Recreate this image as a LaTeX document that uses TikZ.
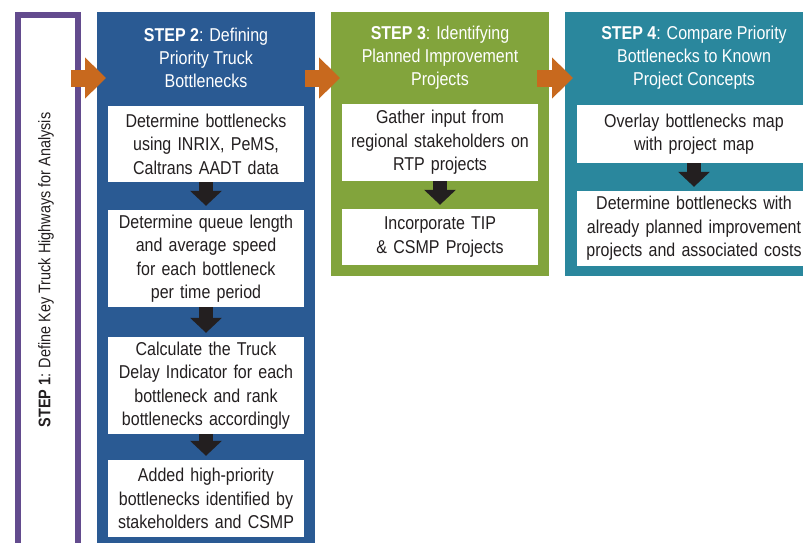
\documentclass[tikz,border=0pt]{standalone}
\usepackage{fontspec}
\setmainfont{Liberation Sans}[FakeStretch=0.86]
\usetikzlibrary{arrows.meta}
\definecolor{cpurple}{HTML}{634B8E}
\definecolor{cblue}{HTML}{2A5A93}
\definecolor{cgreen}{HTML}{82A43C}
\definecolor{cteal}{HTML}{2A879D}
\definecolor{corange}{HTML}{C8691E}
\definecolor{cdark}{HTML}{231F20}
\tikzset{
  title/.style={text=white, align=center, font=\fontsize{18.6}{23}\selectfont, inner sep=0pt},
  wbox/.style={fill=white, text=cdark, align=center, inner sep=0pt,
    font=\fontsize{18.6}{23.5}\selectfont},
  darr/.style={draw=cdark, line width=14pt,
    -{Triangle[length=15pt,width=31pt]}, shorten >=4pt},
  oarr/.style={draw=corange, line width=17pt,
    -{Triangle[length=21pt,width=40pt]}},
}
\begin{document}
\begin{tikzpicture}[x=1pt,y=-1pt]
\useasboundingbox (0,0) rectangle (803,542);
% Step 1 frame
\draw[cpurple, line width=6pt, fill=white] (18,15) rectangle (78,580);
\node[rotate=90, inner sep=0pt, text=cdark, font=\fontsize{16.8}{22}\selectfont] (s1t) at (46,270)
  {\textbf{STEP 1}: Define Key Truck Highways for Analysis};
\coordinate (s1e) at (81,78);
% Step panels
\fill[cblue] (97,12) rectangle (315,580);
\fill[cgreen] (331,12) rectangle (549,276);
\fill[cteal] (565,12) rectangle (830,276);
\coordinate (s2w) at (97,78);
\coordinate (s2e) at (315,78);
\coordinate (s3w) at (331,78);
\coordinate (s3e) at (549,78);
\coordinate (s4w) at (565,78);
% Titles
\node[title] (t2) at (206,58) {\textbf{STEP 2}: Defining\\Priority Truck\\Bottlenecks};
\node[title] (t3) at (440,58) {\textbf{STEP 3}: Identifying\\Planned Improvement\\Projects};
\node[title] (t4) at (694,58) {\textbf{STEP 4}: Compare Priority\\Bottlenecks to Known\\Project Concepts};
% Step 2 boxes
\node[wbox, minimum width=196pt, minimum height=76pt, text width=196pt] (b1) at (206,144)
  {Determine bottlenecks\\using INRIX, PeMS,\\Caltrans AADT data};
\node[wbox, minimum width=196pt, minimum height=97pt, text width=196pt] (b2) at (206,258.5)
  {Determine queue length\\and average speed\\for each bottleneck\\per time period};
\node[wbox, minimum width=196pt, minimum height=97pt, text width=196pt] (b3) at (206,385.5)
  {Calculate the Truck\\Delay Indicator for each\\bottleneck and rank\\bottlenecks accordingly};
\node[wbox, minimum width=196pt, minimum height=77pt, text width=196pt] (b4) at (206,498.5)
  {Added high-priority\\bottlenecks identified by\\stakeholders and CSMP};
% Step 3 boxes
\node[wbox, minimum width=196pt, minimum height=77pt, text width=196pt] (c1) at (440,142.5)
  {Gather input from\\regional stakeholders on\\RTP projects};
\node[wbox, minimum width=196pt, minimum height=56pt, text width=196pt] (c2) at (440,237)
  {Incorporate TIP\\\& CSMP Projects};
% Step 4 boxes
\node[wbox, minimum width=234pt, minimum height=58pt, text width=234pt] (d1) at (694,134)
  {Overlay bottlenecks map\\with project map};
\node[wbox, minimum width=234pt, minimum height=75pt, text width=234pt] (d2) at (694,228.5)
  {Determine bottlenecks with\\already planned improvement\\projects and associated costs};
% Down arrows
\draw[darr] (b1) -- (b2);
\draw[darr] (b2) -- (b3);
\draw[darr] (b3) -- (b4);
\draw[darr] (c1) -- (c2);
\draw[darr] (d1) -- (d2);
% Orange arrows
\draw[oarr] ([xshift=-10pt]s1e) -- ([xshift=9pt]s2w);
\draw[oarr] ([xshift=-10pt]s2e) -- ([xshift=9pt]s3w);
\draw[oarr] ([xshift=-12pt]s3e) -- ([xshift=8pt]s4w);
\end{tikzpicture}
\end{document}
